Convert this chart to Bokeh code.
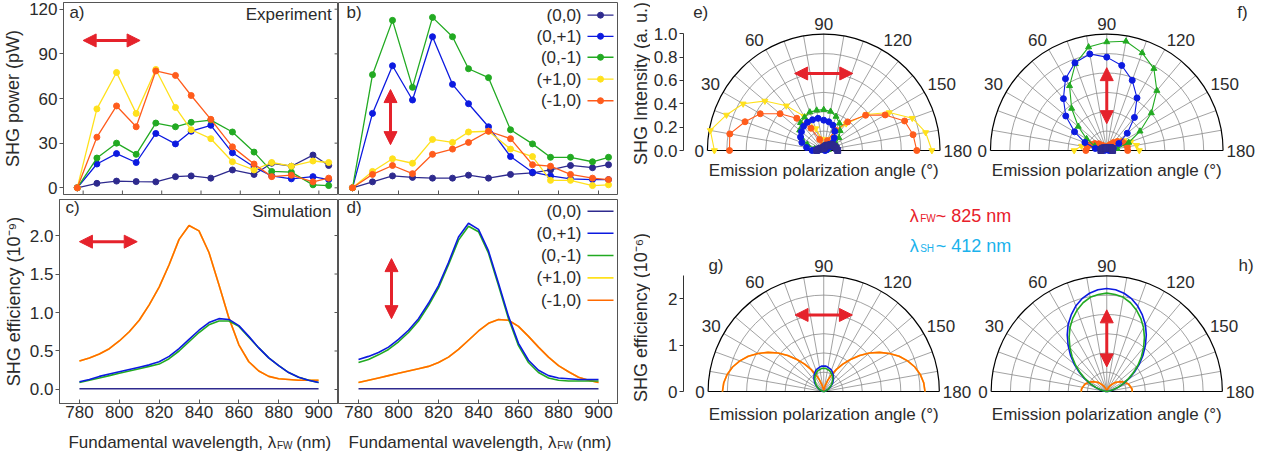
import numpy as np
from bokeh.plotting import figure
from bokeh.layouts import row, column
from bokeh.models import Range1d, FixedTicker, Arrow, NormalHead, PrintfTickFormatter
from bokeh.core.properties import value
from bokeh.embed import file_html
from bokeh.resources import INLINE

FONT = "Liberation Sans"
TXT = "#2b2b2b"
AXC = "#555555"
GRID = "#8a8a8a"
RED = "#e5222b"

# ---------------- data ----------------
series_labels = ["(0,0)", "(0,+1)", "(0,-1)", "(+1,0)", "(-1,0)"]
exp_colors = ["#2e2a8e", "#0c1ae0", "#22aa22", "#ffe11c", "#ff5c1c"]
sim_colors = ["#2e2a8e", "#0c1ae0", "#22aa22", "#ffe11c", "#ff6a00"]
exp_markers = ["square", "circle", "triangle", "inverted_triangle", "circle"]

wl_exp = [777, 787, 797, 807, 817, 827, 835, 845, 856, 867, 876, 886, 897, 905]
# a) horizontal excitation (pW)
a_00 = [0, 3, 4.5, 4.2, 4, 7.5, 8, 6.5, 12, 9, 16.5, 14.5, 22, 15]
a_01 = [0, 16, 23, 17, 36.5, 29.5, 38, 42, 23.5, 14, 8, 6, 7.5, 5.5]
a_0m1 = [0, 20, 30, 22.5, 43.5, 41, 44, 45.5, 37.5, 24, 11, 10.5, 2, 1.5]
a_p10 = [0, 53, 77.5, 50, 79.5, 54, 39, 33, 17.5, 12, 17, 14.5, 18, 17]
a_m10 = [0, 34, 55, 41, 78.5, 75.5, 62, 46, 27.5, 16, 7.5, 8.5, 4, 6.5]
# b) vertical excitation (pW)
b_00 = [0, 4, 8, 7, 6.5, 6.5, 8.5, 6.5, 9, 10, 12, 15, 13.5, 15.5]
b_01 = [0, 50, 82, 59, 101.5, 69.5, 56.5, 41, 21, 10.5, 8, 6, 5.5, 5.5]
b_0m1 = [0, 76, 112.5, 67.5, 114.5, 101.5, 80, 74, 39, 29.5, 20.5, 20.5, 17.5, 20.5]
b_p10 = [0, 11, 19.5, 16.5, 32.5, 30.5, 37.5, 38, 26, 21, 5, 5, 1.5, 2]
b_m10 = [0, 9, 15, 9.5, 22.5, 26, 30.5, 38, 33, 15.5, 14.5, 9, 6.5, 5.5]

wl_sim = [780, 785, 790, 795, 800, 805, 810, 815, 820, 825, 830, 835, 840,
          845, 850, 855, 860, 865, 870, 875, 880, 885, 890, 895, 900]
# c) simulation, horizontal
c_00 = [0.01, 0.01, 0.01, 0.01, 0.01, 0.01, 0.01, 0.01, 0.01, 0.01, 0.01, 0.01, 0.01,
        0.01, 0.01, 0.01, 0.01, 0.01, 0.01, 0.01, 0.01, 0.01, 0.01, 0.01, 0.01]
c_01 = [0.10, 0.13, 0.17, 0.20, 0.23, 0.26, 0.29, 0.32, 0.36, 0.43, 0.53, 0.65, 0.77,
        0.87, 0.92, 0.91, 0.83, 0.69, 0.54, 0.41, 0.31, 0.22, 0.16, 0.12, 0.09]
c_0m1 = [0.09, 0.12, 0.15, 0.18, 0.21, 0.24, 0.27, 0.30, 0.33, 0.40, 0.50, 0.62, 0.74,
         0.84, 0.89, 0.89, 0.82, 0.68, 0.54, 0.41, 0.31, 0.22, 0.16, 0.12, 0.09]
c_m10 = [0.37, 0.41, 0.46, 0.53, 0.63, 0.75, 0.90, 1.10, 1.33, 1.62, 1.95, 2.13, 2.06,
         1.78, 1.36, 0.93, 0.58, 0.36, 0.24, 0.17, 0.14, 0.13, 0.12, 0.12, 0.12]
c_p10 = c_m10
# d) simulation, vertical
d_00 = [0.01, 0.01, 0.01, 0.01, 0.01, 0.01, 0.01, 0.01, 0.01, 0.01, 0.01, 0.01, 0.01,
        0.01, 0.01, 0.01, 0.01, 0.01, 0.01, 0.01, 0.01, 0.01, 0.01, 0.01, 0.01]
d_01 = [0.39, 0.43, 0.48, 0.55, 0.65, 0.77, 0.92, 1.12, 1.35, 1.65, 1.98, 2.16, 2.08,
        1.80, 1.38, 0.95, 0.60, 0.38, 0.25, 0.18, 0.15, 0.14, 0.13, 0.13, 0.13]
d_0m1 = [0.35, 0.39, 0.45, 0.52, 0.62, 0.74, 0.89, 1.09, 1.32, 1.62, 1.94, 2.12, 2.05,
         1.77, 1.35, 0.92, 0.57, 0.35, 0.22, 0.15, 0.12, 0.11, 0.11, 0.11, 0.11]
d_m10 = [0.09, 0.12, 0.15, 0.18, 0.21, 0.24, 0.27, 0.30, 0.35, 0.42, 0.52, 0.64, 0.76,
         0.86, 0.91, 0.90, 0.82, 0.69, 0.55, 0.42, 0.31, 0.23, 0.16, 0.12, 0.09]
d_p10 = d_m10

# polar, experiment (angles in degrees, 0 at left)
ang_exp = [0, 10, 20, 30, 40, 50, 60, 70, 80, 90, 100, 110, 120, 130, 140, 150, 160, 170, 180]
e_00 = [0.06, 0.05, 0.04, 0.03, 0.03, 0.02, 0.02, 0.02, 0.02, 0.02, 0.03, 0.04, 0.05, 0.06, 0.08, 0.09, 0.10, 0.11, 0.12]
e_01 = [0.10, 0.15, 0.20, 0.23, 0.25, 0.27, 0.28, 0.28, 0.28, 0.26, 0.25, 0.23, 0.19, 0.14, 0.10, 0.06, 0.03, 0.02, 0.01]
e_0m1 = [0.02, 0.08, 0.15, 0.22, 0.27, 0.31, 0.33, 0.35, 0.35, 0.35, 0.34, 0.31, 0.27, 0.22, 0.17, 0.12, 0.07, 0.04, 0.02]
e_p10 = [0.94, 0.99, 0.89, 0.80, 0.66, 0.50, 0.34, 0.20, 0.10, 0.05, 0.05, 0.10, 0.18, 0.30, 0.48, 0.65, 0.81, 0.89, 0.93]
e_m10 = [0.81, 0.82, 0.72, 0.63, 0.49, 0.36, 0.22, 0.10, 0.04, 0.02, 0.04, 0.09, 0.20, 0.32, 0.47, 0.61, 0.74, 0.78, 0.80]
f_00 = [0.05, 0.05, 0.04, 0.04, 0.03, 0.03, 0.02, 0.02, 0.02, 0.02, 0.02, 0.02, 0.03, 0.03, 0.04, 0.04, 0.05, 0.05, 0.05]
f_01 = [0.02, 0.10, 0.20, 0.32, 0.46, 0.58, 0.71, 0.80, 0.84, 0.80, 0.74, 0.64, 0.52, 0.37, 0.23, 0.12, 0.06, 0.03, 0.02]
f_0m1 = [0.01, 0.04, 0.11, 0.20, 0.32, 0.47, 0.64, 0.79, 0.90, 0.93, 0.95, 0.89, 0.81, 0.67, 0.50, 0.33, 0.20, 0.09, 0.03]
f_p10 = [0.28, 0.22, 0.16, 0.11, 0.07, 0.04, 0.02, 0.01, 0.01, 0.01, 0.02, 0.04, 0.06, 0.09, 0.13, 0.17, 0.22, 0.26, 0.28]
f_m10 = [0.18, 0.17, 0.15, 0.12, 0.09, 0.06, 0.04, 0.02, 0.01, 0.01, 0.02, 0.04, 0.06, 0.09, 0.12, 0.15, 0.17, 0.18, 0.18]

# polar, simulation
ang_sim = [0, 5, 10, 15, 20, 25, 30, 35, 40, 45, 50, 55, 60, 65, 70, 75, 80, 85, 90,
           95, 100, 105, 110, 115, 120, 125, 130, 135, 140, 145, 150, 155, 160, 165, 170, 175, 180]
g_m10 = [2.19, 2.17, 2.12, 2.04, 1.93, 1.80, 1.64, 1.47, 1.29, 1.10, 0.90, 0.72, 0.55, 0.39, 0.26, 0.15, 0.07, 0.02, 0.00,
         0.02, 0.07, 0.15, 0.26, 0.39, 0.55, 0.72, 0.90, 1.10, 1.29, 1.47, 1.64, 1.80, 1.93, 2.04, 2.12, 2.17, 2.19]
g_01 = [0.00, 0.00, 0.02, 0.04, 0.06, 0.10, 0.14, 0.18, 0.23, 0.28, 0.32, 0.37, 0.41, 0.45, 0.49, 0.51, 0.53, 0.55, 0.55,
        0.55, 0.53, 0.51, 0.49, 0.45, 0.41, 0.37, 0.32, 0.28, 0.23, 0.18, 0.14, 0.10, 0.06, 0.04, 0.02, 0.00, 0.00]
g_0m1 = [0.00, 0.00, 0.02, 0.03, 0.06, 0.09, 0.13, 0.16, 0.21, 0.25, 0.29, 0.34, 0.38, 0.41, 0.44, 0.47, 0.48, 0.50, 0.50,
         0.50, 0.48, 0.47, 0.44, 0.41, 0.38, 0.34, 0.29, 0.25, 0.21, 0.16, 0.13, 0.09, 0.06, 0.03, 0.02, 0.00, 0.00]
h_m10 = [0.55, 0.55, 0.53, 0.51, 0.49, 0.45, 0.41, 0.37, 0.32, 0.28, 0.23, 0.18, 0.14, 0.10, 0.06, 0.04, 0.02, 0.00, 0.00,
         0.00, 0.02, 0.04, 0.06, 0.10, 0.14, 0.18, 0.23, 0.28, 0.32, 0.37, 0.41, 0.45, 0.49, 0.51, 0.53, 0.55, 0.55]
h_01 = [0.00, 0.02, 0.07, 0.15, 0.26, 0.40, 0.56, 0.73, 0.92, 1.11, 1.30, 1.49, 1.67, 1.82, 1.96, 2.07, 2.15, 2.20, 2.22,
        2.20, 2.15, 2.07, 1.96, 1.82, 1.67, 1.49, 1.30, 1.11, 0.92, 0.73, 0.56, 0.40, 0.26, 0.15, 0.07, 0.02, 0.00]
h_0m1 = [0.00, 0.02, 0.06, 0.14, 0.25, 0.38, 0.53, 0.70, 0.88, 1.06, 1.24, 1.42, 1.59, 1.74, 1.87, 1.98, 2.06, 2.10, 2.12,
         2.10, 2.06, 1.98, 1.87, 1.74, 1.59, 1.42, 1.24, 1.06, 0.88, 0.70, 0.53, 0.38, 0.25, 0.14, 0.06, 0.02, 0.00]

wl_ticks = [780, 800, 820, 840, 860, 880, 900]
pw_ticks = [0, 30, 60, 90, 120]
eff_ticks = [0, 0.5, 1.0, 1.5, 2.0]
int_ticks = [0, 0.2, 0.4, 0.6, 0.8, 1.0]
effp_ticks = [0, 1, 2]
angle_ticks = [0, 30, 60, 90, 120, 150, 180]
angle_labels = ["0", "30", "60", "90", "120", "150", "180"]


# ---------------- helpers ----------------
def base_fig(w, h, xr, yr, bl=0, br=0, bt=0, bb=0):
    p = figure(width=w, height=h, x_range=Range1d(*xr), y_range=Range1d(*yr),
               output_backend="svg", toolbar_location=None,
               min_border_left=bl, min_border_right=br, min_border_top=bt, min_border_bottom=bb)
    p.xgrid.visible = False
    p.ygrid.visible = False
    p.outline_line_color = AXC
    p.border_fill_color = "white"
    p.background_fill_color = "white"
    return p


def blank_fig(w, h):
    p = figure(width=w, height=h, x_range=Range1d(0, w), y_range=Range1d(0, h),
               output_backend="svg", toolbar_location=None,
               min_border_left=0, min_border_right=0, min_border_top=0, min_border_bottom=0)
    p.axis.visible = False
    p.grid.visible = False
    p.outline_line_color = None
    p.border_fill_color = "white"
    p.background_fill_color = "white"
    return p


def style_axis(ax, ticks, tin=0, tout=4, fmt=None):
    ax.ticker = FixedTicker(ticks=ticks)
    if fmt:
        ax.formatter = PrintfTickFormatter(format=fmt)
    ax.major_tick_in = tin
    ax.major_tick_out = tout
    ax.minor_tick_line_color = None
    ax.axis_line_color = AXC
    ax.major_tick_line_color = AXC
    ax.major_label_text_font = FONT
    ax.major_label_text_color = TXT
    ax.major_label_text_font_size = "17px"
    ax.major_label_standoff = 2
    ax.axis_label_text_font = FONT
    ax.axis_label_text_font_size = "18px"
    ax.axis_label_text_font_style = "normal"
    ax.axis_label_text_color = TXT
    ax.axis_label_standoff = 3


def txt(p, x, y, s, size="17px", align="left", base="middle", color=TXT, angle=0.0):
    p.text(x=[x], y=[y], text=[s], text_font=value(FONT), text_font_size=size,
           text_align=align, text_baseline=base, text_color=color, angle=angle)


def arrow(p, x0, y0, x1, y1):
    p.add_layout(Arrow(start=NormalHead(size=13, fill_color=RED, line_color=RED, line_width=1),
                       end=NormalHead(size=13, fill_color=RED, line_color=RED, line_width=1),
                       x_start=x0, y_start=y0, x_end=x1, y_end=y1,
                       line_color=RED, line_width=3))


def ticks_bottom_in(p, ticks, y0, ppu):
    n = len(ticks)
    p.segment(x0=ticks, y0=[y0] * n, x1=ticks, y1=[y0 + 4.0 / ppu] * n, line_color=AXC, line_width=1)


def ticks_right_in(p, ticks, x1, ppu):
    n = len(ticks)
    p.segment(x0=[x1 - 4.0 / ppu] * n, y0=ticks, x1=[x1] * n, y1=ticks, line_color=AXC, line_width=1)


# ---------------- left block ----------------
XR = (770, 910)
A_W, B_W = 281, 280          # frame widths
YR_A = (-4.5, 124.5)
A_FRAME_H = 192
ppu_a = A_FRAME_H / (YR_A[1] - YR_A[0])
a = base_fig(57 + A_W, 199, XR, YR_A, bl=57, bt=2, bb=5)
style_axis(a.yaxis[0], pw_ticks)
a.yaxis[0].axis_label = "SHG power (pW)"
a.xaxis.visible = False
ticks_bottom_in(a, wl_ticks, YR_A[0], ppu_a)
ticks_right_in(a, pw_ticks, XR[1], A_W / 140.0)
for ys, col in zip([a_00, a_01, a_0m1, a_p10, a_m10], exp_colors):
    a.line(wl_exp, ys, line_color=col, line_width=1.3)
    a.scatter(wl_exp, ys, size=6, marker="circle", fill_color=col, line_color=col)
txt(a, 773, 117.5, "a)")
txt(a, 906.5, 116.5, "Experiment", align="right")
arrow(a, 780, 99, 809, 99)

b = base_fig(B_W, 199, XR, YR_A, bt=2, bb=5)
b.yaxis.visible = False
b.xaxis.visible = False
ticks_bottom_in(b, wl_ticks, YR_A[0], ppu_a)
for ys, col in zip([b_00, b_01, b_0m1, b_p10, b_m10], exp_colors):
    b.line(wl_exp, ys, line_color=col, line_width=1.3)
    b.scatter(wl_exp, ys, size=6, marker="circle", fill_color=col, line_color=col)
txt(b, 774, 117.5, "b)")
leg_y_b = [116, 101.8, 87.7, 73, 58.5]
b.text(x=[891.5] * 5, y=leg_y_b, text=series_labels, text_font=value(FONT), text_font_size="17px",
       text_align="right", text_baseline="middle", text_color=TXT)
b.segment(x0=[894.5] * 5, y0=leg_y_b, x1=[907.5] * 5, y1=leg_y_b, line_color=exp_colors, line_width=1.3)
b.scatter(x=[901] * 5, y=leg_y_b, size=6, fill_color=exp_colors, line_color=exp_colors)
arrow(b, 796, 66, 796, 29)

YR_C = (-0.182, 2.468)
c = base_fig(57 + A_W, 226, XR, YR_C, bl=57, bb=22)
style_axis(c.yaxis[0], eff_ticks, fmt="%.1f")
c.yaxis[0].axis_label = "SHG efficiency (10\u207b\u2079)"
style_axis(c.xaxis[0], wl_ticks, tin=4, tout=0)
ticks_right_in(c, eff_ticks, XR[1], A_W / 140.0)
for ys, col in zip([c_p10, c_m10, c_0m1, c_01, c_00],
                   [sim_colors[3], sim_colors[4], sim_colors[2], sim_colors[1], sim_colors[0]]):
    c.line(wl_sim, ys, line_color=col, line_width=1.6)
txt(c, 773, 2.36, "c)")
txt(c, 906.5, 2.31, "Simulation", align="right")
arrow(c, 780, 1.92, 809, 1.92)

d = base_fig(B_W, 226, XR, YR_C, bb=22)
d.yaxis.visible = False
style_axis(d.xaxis[0], wl_ticks, tin=4, tout=0)
for ys, col in zip([d_p10, d_m10, d_0m1, d_01, d_00],
                   [sim_colors[3], sim_colors[4], sim_colors[2], sim_colors[1], sim_colors[0]]):
    d.line(wl_sim, ys, line_color=col, line_width=1.6)
txt(d, 774, 2.36, "d)")
leg_y_d = [2.315, 2.03, 1.74, 1.45, 1.16]
d.text(x=[891.5] * 5, y=leg_y_d, text=series_labels, text_font=value(FONT), text_font_size="17px",
       text_align="right", text_baseline="middle", text_color=TXT)
d.segment(x0=[894.5] * 5, y0=leg_y_d, x1=[907.5] * 5, y1=leg_y_d, line_color=sim_colors, line_width=1.6)
arrow(d, 796.5, 1.70, 796.5, 0.92)

# strip with the x-axis titles (subscripted) under c) and d)
xstrip = blank_fig(57 + A_W + B_W, 27)
lam_end_nm = 879
for frame_left, frame_w in ((57, A_W), (57 + A_W, B_W)):
    xe = frame_left + (lam_end_nm - XR[0]) * frame_w / (XR[1] - XR[0])
    txt(xstrip, xe, 10, "Fundamental wavelength, \u03bb", align="right", base="alphabetic")
    txt(xstrip, xe + 0.7, 7, "FW", size="10px", base="alphabetic")
    txt(xstrip, xe + 20, 10, "(nm)", base="alphabetic")

# ---------------- right block (polar) ----------------
S_TOP = 116.7          # px per unit, top polar figures
S_BOT = 46.4           # px per unit, bottom polar figures
FRW = 1273 - 681       # frame width
x0t = (681 - 821.7) / S_TOP
tr = base_fig(31 + FRW, 226, (x0t, x0t + FRW / S_TOP), ((150 - 226) / S_TOP, 150 / S_TOP), bl=31)
x0b = (681 - 821.7) / S_BOT
br = base_fig(31 + FRW, 226, (x0b, x0b + FRW / S_BOT), ((391 - 452) / S_BOT, (391 - 226) / S_BOT), bl=31)

for p, ticks, rmax, fmt in ((tr, int_ticks, 1.0, "%.1f"), (br, effp_ticks, 2.5, "%d")):
    p.outline_line_color = None
    p.xaxis.visible = False
    style_axis(p.yaxis[0], ticks, fmt=fmt)
    p.yaxis[0].bounds = (0, rmax)
    p.yaxis[0].axis_line_color = "#333333"
    p.yaxis[0].major_tick_line_color = "#333333"

# strip with rotated radial-axis titles
ystrip = blank_fig(650 - 618, 452)
txt(ystrip, 22, 452 - 83, "SHG Intensity (a. u.)", size="18px", align="center", angle=np.pi / 2)
txt(ystrip, 22, 452 - 317, "SHG efficiency (10\u207b\u2076)", size="18px", align="center", angle=np.pi / 2)


def polar_xy(cx, angles, radii):
    th = np.deg2rad(np.asarray(angles, dtype=float))
    r = np.asarray(radii, dtype=float)
    return cx - r * np.cos(th), r * np.sin(th)


def polar_grid(p, cx, rmax, ylab):
    rings = [rmax * k / 6.0 for k in range(1, 6)]
    p.arc(x=[cx] * 5, y=[0] * 5, radius=rings, start_angle=0, end_angle=np.pi,
          line_color=GRID, line_width=0.8)
    sp = np.deg2rad(np.arange(10, 180, 10))
    p.segment(x0=[cx] * len(sp), y0=[0] * len(sp), x1=cx - rmax * np.cos(sp), y1=rmax * np.sin(sp),
              line_color=GRID, line_width=0.8)
    p.arc(x=[cx], y=[0], radius=[rmax], start_angle=0, end_angle=np.pi, line_color="black", line_width=1.2)
    p.segment(x0=[cx - rmax], y0=[0], x1=[cx + rmax], y1=[0], line_color="black", line_width=1.2)
    for ang, s in zip(angle_ticks, angle_labels):
        th = np.deg2rad(ang)
        rl = rmax * 1.03
        x = cx - rl * np.cos(th)
        y = rl * np.sin(th)
        if ang == 0:
            al, bl = "right", "middle"
        elif ang < 90:
            al, bl = "right", "bottom"
        elif ang == 90:
            al, bl = "center", "bottom"
        elif ang < 180:
            al, bl = "left", "bottom"
        else:
            al, bl = "left", "middle"
        txt(p, x, y, s, align=al, base=bl)
    txt(p, cx, ylab, "Emission polarization angle (\u00b0)", align="center")


cf_t = (1105.7 - 821.7) / S_TOP
cf_b = (1105.7 - 821.7) / S_BOT
polar_grid(tr, 0.0, 1.0, -20 / S_TOP)
polar_grid(tr, cf_t, 1.0, -20 / S_TOP)
polar_grid(br, 0.0, 2.5, -22.5 / S_BOT)
polar_grid(br, cf_b, 2.5, -22.5 / S_BOT)

order = [3, 4, 2, 1, 0]
for cx, sets in ((0.0, [e_00, e_01, e_0m1, e_p10, e_m10]), (cf_t, [f_00, f_01, f_0m1, f_p10, f_m10])):
    for i in order:
        xs, ys = polar_xy(cx, ang_exp, sets[i])
        tr.line(xs, ys, line_color=exp_colors[i], line_width=1.1)
        tr.scatter(xs, ys, size=6, marker=exp_markers[i], fill_color=exp_colors[i], line_color=exp_colors[i])

for cx, sets in ((0.0, [g_m10, g_m10, g_01, g_0m1]), (cf_b, [h_m10, h_m10, h_01, h_0m1])):
    for ys_r, col in zip(sets, [sim_colors[3], sim_colors[4], sim_colors[1], sim_colors[2]]):
        xs, ys = polar_xy(cx, ang_sim, ys_r)
        br.line(xs, ys, line_color=col, line_width=1.6)

# panel letters
txt(tr, (690.7 - 821.7) / S_TOP, (150 - 11.5) / S_TOP, "e)")
txt(tr, (1236.7 - 821.7) / S_TOP, (150 - 11.5) / S_TOP, "f)")
txt(br, (706 - 821.7) / S_BOT, (391 - 265) / S_BOT, "g)")
txt(br, (1238 - 821.7) / S_BOT, (391 - 265) / S_BOT, "h)")

# arrows
arrow(tr, -0.25, 0.66, 0.25, 0.66)
arrow(tr, cf_t, 0.71, cf_t, 0.23)
arrow(br, -0.62, 1.65, 0.62, 1.65)
arrow(br, cf_b, 1.76, cf_b, 0.53)

# wavelength annotations
RED_T = "#e8202a"
CYAN_T = "#1ab2ec"
txt(tr, (908 - 821.7) / S_TOP, (150 - 215) / S_TOP, "\u03bb", size="18px", base="alphabetic", color=RED_T)
txt(tr, (918.5 - 821.7) / S_TOP, (150 - 218) / S_TOP, "FW", size="10px", base="alphabetic", color=RED_T)
txt(tr, (934 - 821.7) / S_TOP, (150 - 215) / S_TOP, "~ 825 nm", size="18px", base="alphabetic", color=RED_T)
txt(br, (908 - 821.7) / S_BOT, (391 - 245) / S_BOT, "\u03bb", size="18px", base="alphabetic", color=CYAN_T)
txt(br, (918.5 - 821.7) / S_BOT, (391 - 248) / S_BOT, "SH", size="10px", base="alphabetic", color=CYAN_T)
txt(br, (934 - 821.7) / S_BOT, (391 - 245) / S_BOT, "~ 412 nm", size="18px", base="alphabetic", color=CYAN_T)

left = column(row(a, b), row(c, d), xstrip)
right = row(ystrip, column(tr, br))
root = row(left, right)

open("out.html", "w").write(file_html(root, INLINE))
